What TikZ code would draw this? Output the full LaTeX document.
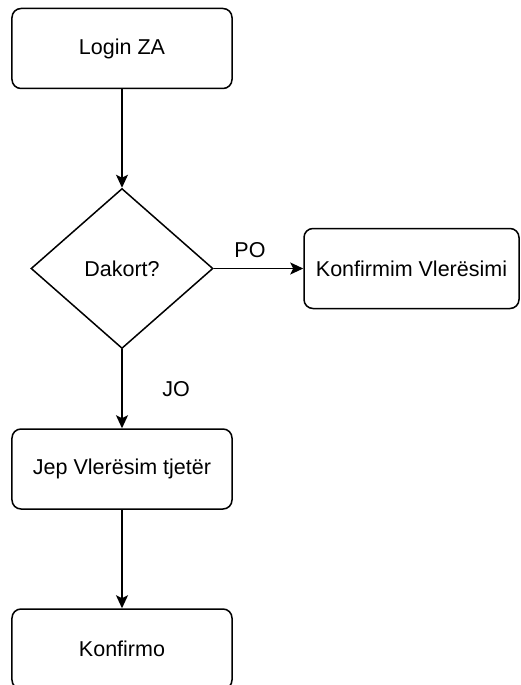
\documentclass[tikz,border=0pt]{standalone}
\usepackage{fontspec}
\setmainfont{Liberation Sans}
\usetikzlibrary{shapes.geometric,arrows.meta}
\tikzset{
  box/.style={draw=black, line width=1.5bp, rounded corners=9bp, fill=white,
    minimum width=220bp, minimum height=80bp, inner sep=0pt,
    font=\fontsize{21.5bp}{25bp}\selectfont},
  decision/.style={draw=black, line width=1.5bp, diamond, fill=white,
    minimum width=182bp, minimum height=160bp, inner sep=0pt,
    font=\fontsize{21.5bp}{25bp}\selectfont},
  lbl/.style={font=\fontsize{21.5bp}{25bp}\selectfont, inner sep=0pt},
  conn/.style={draw=black, line width=1.5bp,
    -{Stealth[length=13bp,width=12bp,inset=3bp]}}
}
\begin{document}
\begin{tikzpicture}[x=1bp,y=-1bp]
\useasboundingbox (0,0) rectangle (521,685);
\clip (0,0) rectangle (521,685);
\fill[white] (0,0) rectangle (521,685);
\node[box] (login) at (122,48.5) {Login ZA};
\node[decision] (dak) at (122,268.5) {Dakort?};
\node[box, minimum width=215bp] (konf) at (411.5,268.5) {Konfirmim Vlerësimi};
\node[box] (jep) at (122,469) {Jep Vlerësim tjetër};
\node[box] (konfirmo) at (122,649) {Konfirmo};
\node[lbl] (po) at (250,250) {PO};
\node[lbl] (jo) at (176,389) {JO};
\draw[conn] (login) -- (dak);
\draw[conn] (dak) -- (konf);
\draw[conn] (dak) -- (jep);
\draw[conn] (jep) -- (konfirmo);
\end{tikzpicture}
\end{document}
